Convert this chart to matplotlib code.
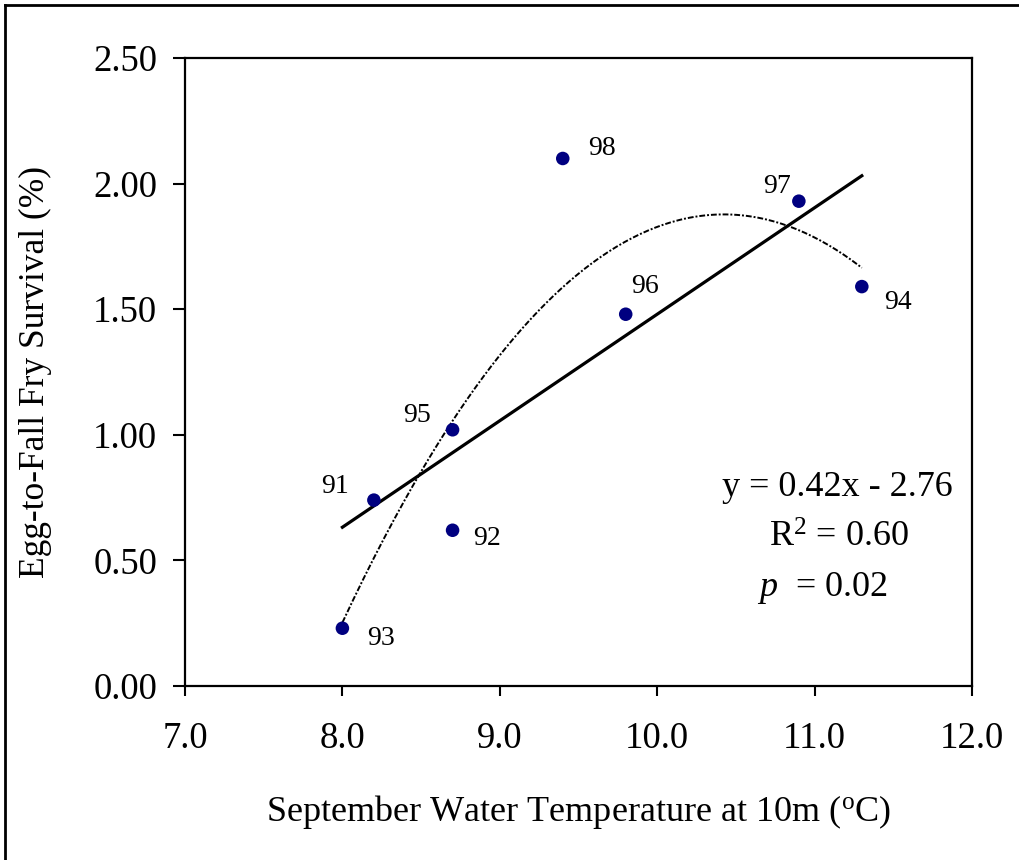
import matplotlib
matplotlib.use("Agg")
import matplotlib.pyplot as plt
import numpy as np

plt.rcParams['font.family'] = 'Liberation Serif'
plt.rcParams['mathtext.fontset'] = 'custom'
plt.rcParams['mathtext.rm'] = 'Liberation Serif'
plt.rcParams['mathtext.it'] = 'Liberation Serif:italic'

# brood year, September temperature at 10 m, egg-to-fall fry survival
years = ["91", "92", "93", "94", "95", "96", "97", "98"]
temp = [8.2, 8.7, 8.0, 11.3, 8.7, 9.8, 10.9, 9.4]
survival = [0.74, 0.62, 0.23, 1.59, 1.02, 1.48, 1.93, 2.10]

# linear regression as reported
slope, intercept = 0.424, -2.76
r2, pval = 0.60, 0.02

# label offsets (pixels) for each year
offsets = {"91": (-39, 14), "92": (34, -8), "93": (39, -10), "94": (36, -16),
           "95": (-36, 14), "96": (19, 28), "97": (-22, 15), "98": (39, 10)}

fig = plt.figure(figsize=(10.19, 8.6), dpi=100)
ax = fig.add_axes([185/1019, 1-686/860, 787/1019, 628/860])

x = np.array(temp)
y = np.array(survival)

# quadratic trend
coef = np.polyfit(x, y, 2)
xq = np.linspace(x.min(), x.max(), 200)
ax.plot(xq, np.polyval(coef, xq), color="black", lw=1.4, ls=(0, (3, 1, 1, 1)))

# linear fit
xl = np.array([x.min(), x.max()])
ax.plot(xl, slope * xl + intercept, color="black", lw=2.3)

ax.scatter(x, y, s=95, color="#000080", zorder=3, edgecolors="none")
for yr, xi, yi in zip(years, temp, survival):
	ax.annotate(yr, (xi, yi), xytext=offsets[yr], textcoords="offset pixels",
				ha="center", va="center", fontsize=20)

ax.set_xlim(7, 12)
ax.set_ylim(0, 2.5)
ax.set_xticks(np.arange(7, 12.01, 1.0))
ax.set_yticks(np.arange(0, 2.51, 0.5))
ax.set_xticklabels([f"{v:.1f}" for v in np.arange(7, 12.01, 1.0)])
ax.set_yticklabels([f"{v:.2f}" for v in np.arange(0, 2.51, 0.5)])
ax.tick_params(axis="x", direction="out", length=7.5, width=1.5, pad=18, labelsize=26.5)
ax.tick_params(axis="y", direction="out", length=9, width=1.5, pad=11, labelsize=26.5)
for s in ax.spines.values():
	s.set_linewidth(1.6)

ax.set_xlabel("September Water Temperature at 10m ($^{\\rm o}$C)", fontsize=26)
ax.xaxis.set_label_coords(0.5, (686-812)/628)
ax.xaxis.label.set_va("center")
ax.set_ylabel("Egg-to-Fall Fry Survival (%)", fontsize=25.5)
ax.yaxis.set_label_coords((35-185)/787, 0.5)
ax.yaxis.label.set_va("center")

fig.text(837/1019, 1-487/860, f"y = {slope:.2f}x - {abs(intercept):.2f}",
		 ha="center", va="center", fontsize=26)
fig.text(839/1019, 1-538/860, f"R$^2$ = {r2:.2f}", ha="center", va="center", fontsize=26)
fig.text(822/1019, 1-588/860, f"$p$  = {pval:.2f}", ha="center", va="center", fontsize=26)

# outer frame
fig.add_artist(plt.Line2D([5/1019, 5/1019], [0, 1-5/860], transform=fig.transFigure,
						  color="black", lw=2))
fig.add_artist(plt.Line2D([5/1019, 1], [1-5/860, 1-5/860], transform=fig.transFigure,
						  color="black", lw=2))

fig.savefig("out.png", dpi=100)
